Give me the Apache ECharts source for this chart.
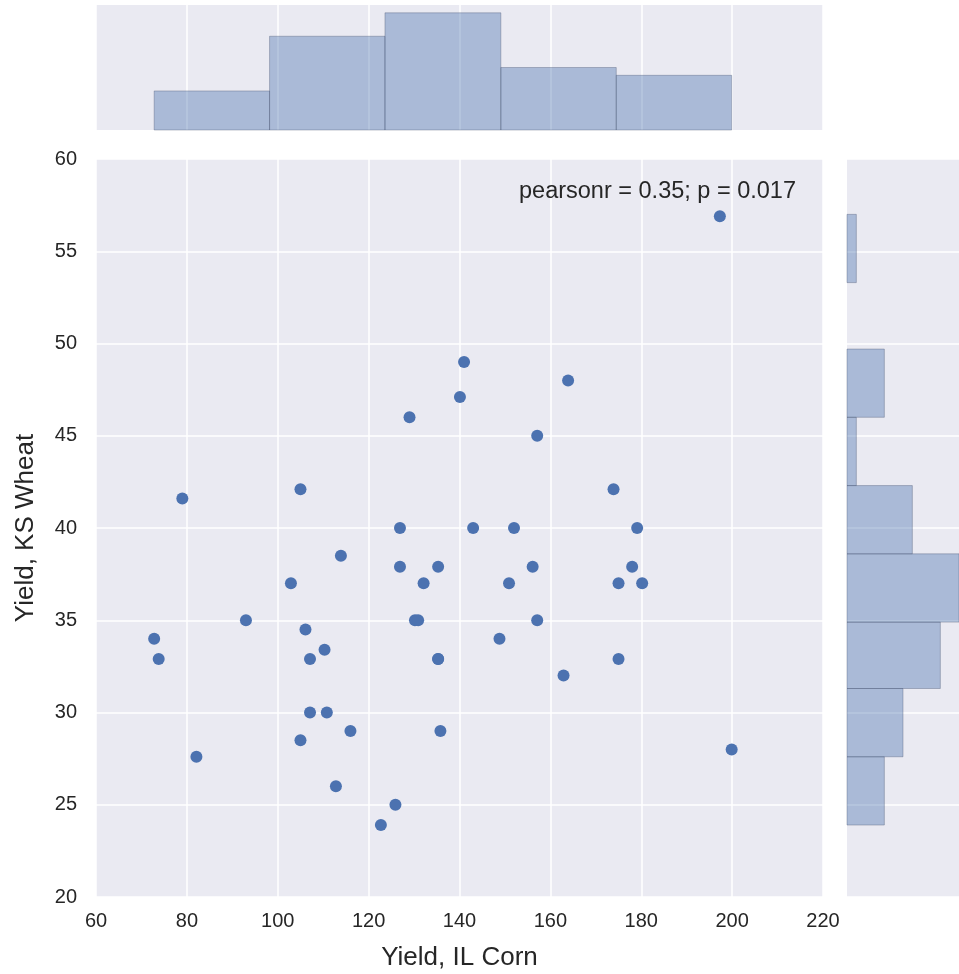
<!DOCTYPE html>
<html>
<head>
<meta charset="utf-8">
<script src="https://cdn.jsdelivr.net/npm/echarts@6/dist/echarts.min.js"></script>
<style>
  html, body { margin: 0; padding: 0; background: #fff; }
  #chart { width: 959px; height: 974px; }
</style>
</head>
<body>
<div id="chart"></div>
<script>
// scatter points (IL corn yield, KS wheat yield)
var cornYield = [197.3, 141.0, 163.9, 140.1, 129.0, 157.1, 79.0, 105.0, 173.9, 126.9,
  143.0, 152.0, 179.1, 113.9, 126.9, 135.3, 156.1, 178.0, 102.9, 132.1,
  150.9, 175.0, 180.2, 93.0, 130.2, 130.9, 157.1, 106.1, 72.8, 148.8,
  110.3, 73.8, 107.1, 135.3, 135.3, 175.0, 162.9, 107.1, 110.8, 116.0,
  135.8, 105.0, 199.9, 82.1, 112.8, 125.9, 122.7]
var wheatYield = [56.9, 49.0, 48.0, 47.1, 46.0, 45.0, 41.6, 42.1, 42.1, 40.0,
  40.0, 40.0, 40.0, 38.5, 37.9, 37.9, 37.9, 37.9, 37.0, 37.0,
  37.0, 37.0, 37.0, 35.0, 35.0, 35.0, 35.0, 34.5, 34.0, 34.0,
  33.4, 32.9, 32.9, 32.9, 32.9, 32.9, 32.0, 30.0, 30.0, 29.0,
  29.0, 28.5, 28.0, 27.6, 26.0, 25.0, 23.9]

// marginal histograms
var cornEdges = [72.8, 98.2, 123.6, 149.1, 174.5, 199.9]
var cornCounts = [5, 12, 15, 8, 7]
var wheatEdges = [23.9, 27.6, 31.3, 34.9, 38.6, 42.3, 46.0, 49.7, 53.3, 57.0]
var wheatCounts = [4, 6, 10, 14, 7, 1, 4, 0, 1]

var xTicks = {min: 60, max: 220, interval: 20}
var yTicks = {min: 20, max: 60, interval: 5}
var statText = 'pearsonr = 0.35; p = 0.017'

var blue = '#4C72B0'
var histFill = 'rgba(76,114,176,0.4)'
var histEdge = 'rgba(70,80,110,0.35)'
var font = '"Liberation Sans", Arial, sans-serif'
var ink = '#262626'

var points = cornYield.map(function (v, i) { return [v, wheatYield[i]] })
var topBins = cornCounts.map(function (c, i) { return [cornEdges[i], cornEdges[i + 1], c] })
var sideBins = wheatCounts.map(function (c, i) { return [wheatEdges[i], wheatEdges[i + 1], c] })

var chart = echarts.init(document.getElementById('chart'))

var hideAxis = {
  axisLine: {show: false},
  axisTick: {show: false}
}
var white = {show: true, lineStyle: {color: '#fff', width: 1.5}}

function histRect (params, x0, y0, x1, y1) {
  // the side panel is cut by the right edge of the figure, so clip to the grid
  var rect = echarts.graphic.clipRectByRect(
    {x: x0, y: y0, width: x1 - x0, height: y1 - y0},
    {x: params.coordSys.x, y: params.coordSys.y, width: params.coordSys.width, height: params.coordSys.height}
  )
  if (!rect) return null
  return {
    type: 'rect',
    shape: rect,
    style: {fill: histFill, stroke: histEdge, lineWidth: 1}
  }
}

var panel = {show: true, backgroundColor: '#EAEAF2', borderWidth: 0, outerBoundsMode: 'none', containLabel: false}

chart.setOption({
  animation: false,
  textStyle: {fontFamily: font},
  grid: [
    Object.assign({left: 96, top: 159, width: 727, height: 738}, panel),
    Object.assign({left: 96, top: 5, width: 727, height: 125}, panel),
    Object.assign({left: 847, top: 159, width: 112, height: 738}, panel)
  ],
  xAxis: [
    Object.assign({
      gridIndex: 0, type: 'value', min: xTicks.min, max: xTicks.max, interval: xTicks.interval,
      name: 'Yield, IL Corn', nameLocation: 'middle', nameGap: 48,
      nameTextStyle: {fontSize: 26, color: ink, fontFamily: font},
      axisLabel: {fontSize: 20, color: ink, margin: 14, fontFamily: font},
      splitLine: white
    }, hideAxis),
    Object.assign({
      gridIndex: 1, type: 'value', min: xTicks.min, max: xTicks.max, interval: xTicks.interval,
      axisLabel: {show: false}, splitLine: white
    }, hideAxis),
    Object.assign({
      gridIndex: 2, type: 'value', min: 0, max: 12,
      axisLabel: {show: false}, splitLine: {show: false}
    }, hideAxis)
  ],
  yAxis: [
    Object.assign({
      gridIndex: 0, type: 'value', min: yTicks.min, max: yTicks.max, interval: yTicks.interval,
      name: 'Yield, KS Wheat', nameLocation: 'middle', nameGap: 57, nameRotate: 90,
      nameTextStyle: {fontSize: 26, color: ink, fontFamily: font},
      axisLabel: {fontSize: 20, color: ink, margin: 19, fontFamily: font},
      splitLine: white
    }, hideAxis),
    Object.assign({
      gridIndex: 1, type: 'value', min: 0, max: 16,
      axisLabel: {show: false}, splitLine: {show: false}
    }, hideAxis),
    Object.assign({
      gridIndex: 2, type: 'value', min: yTicks.min, max: yTicks.max, interval: yTicks.interval,
      axisLabel: {show: false}, splitLine: white
    }, hideAxis)
  ],
  series: [
    {
      type: 'scatter',
      xAxisIndex: 0, yAxisIndex: 0,
      data: points,
      symbolSize: 12,
      itemStyle: {color: blue, opacity: 1}
    },
    {
      type: 'custom',
      xAxisIndex: 1, yAxisIndex: 1,
      data: topBins,
      renderItem: function (params, api) {
        var p0 = api.coord([api.value(0), api.value(2)])
        var p1 = api.coord([api.value(1), 0])
        return histRect(params, p0[0], p0[1], p1[0], p1[1])
      }
    },
    {
      type: 'custom',
      xAxisIndex: 2, yAxisIndex: 2,
      data: sideBins,
      renderItem: function (params, api) {
        if (api.value(2) === 0) return null
        var p0 = api.coord([0, api.value(1)])
        var p1 = api.coord([api.value(2), api.value(0)])
        return histRect(params, p0[0], p0[1], p1[0], p1[1])
      }
    }
  ],
  graphic: [
    {
      type: 'text', left: 519, top: 180, z: 100,
      style: {text: statText, fontSize: 23.5, fill: ink, fontFamily: font}
    }
  ]
})
</script>
</body>
</html>
